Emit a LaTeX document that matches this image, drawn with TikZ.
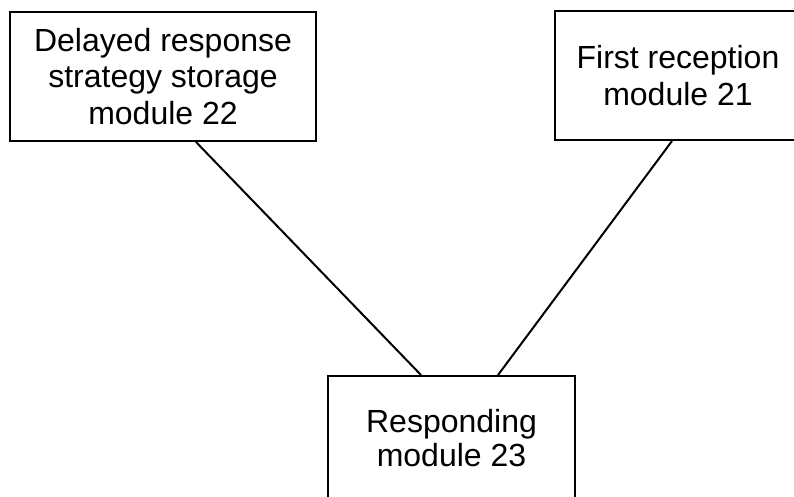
\documentclass[tikz,border=0pt]{standalone}
\usepackage{fontspec}
\setmainfont{Liberation Sans}
\begin{document}
\begin{tikzpicture}[x=1pt,y=-1pt,
  module/.style={draw, line width=2pt, inner sep=0pt, align=center,
    font=\fontsize{32}{36.5}\selectfont},
  link/.style={line width=2pt}]
\useasboundingbox (0,0) rectangle (794,497);
\node[module, minimum width=306pt, minimum height=129pt] (b22) at (163,76.5)
  {Delayed response\\strategy storage\\module 22};
\node[module, minimum width=246pt, minimum height=129pt] (b21) at (678,75.5)
  {First reception\\module 21};
\node[module, minimum width=247pt, minimum height=124pt,
  font=\fontsize{32}{34}\selectfont] (b23) at (451.5,438)
  {Responding\\module 23};
\draw[link] ([xshift=187pt]b22.south west) -- ([xshift=94pt]b23.north west);
\draw[link] ([xshift=118pt]b21.south west) -- ([xshift=171pt]b23.north west);
\end{tikzpicture}
\end{document}
